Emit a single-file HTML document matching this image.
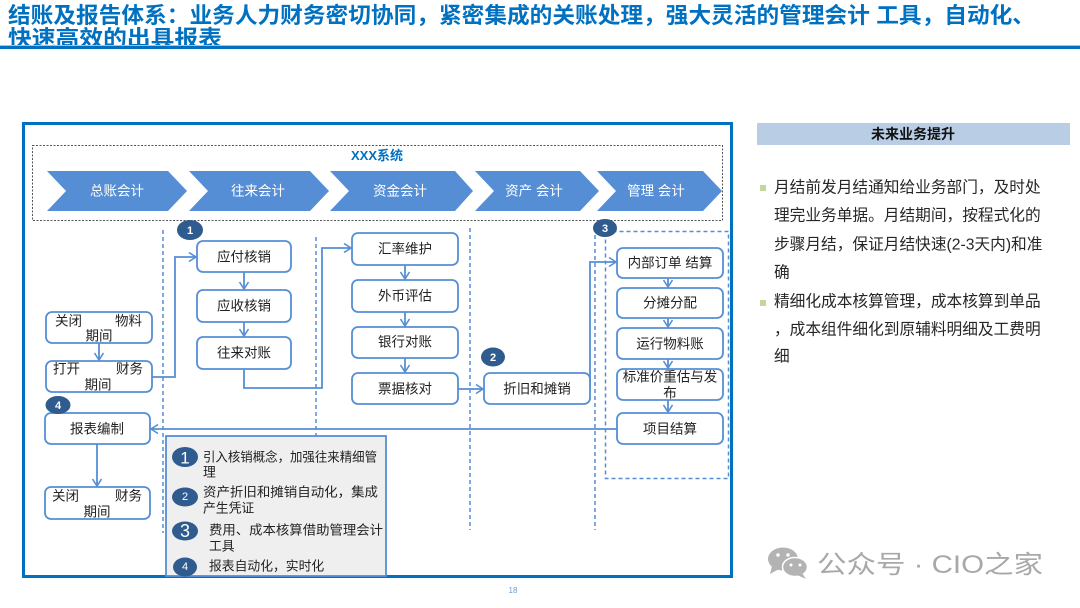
<!DOCTYPE html>
<html><head><meta charset="utf-8"><style>
html,body{margin:0;padding:0;background:#fff;}
body{width:1080px;height:608px;overflow:hidden;}
svg{display:block;font-family:"Liberation Sans","Noto Sans CJK SC",sans-serif;}
</style></head><body>
<svg width="1080" height="608" viewBox="0 0 1080 608" xmlns="http://www.w3.org/2000/svg">
<defs>
<marker id="ar" markerWidth="12" markerHeight="12" refX="9" refY="6" orient="auto" markerUnits="userSpaceOnUse">
<polyline points="2,1.5 9,6 2,10.5" fill="none" stroke="#558ED5" stroke-width="1.6"/>
</marker>
</defs>

<!-- Title -->
<g font-weight="bold" fill="#0070C0" font-size="22">
<text x="8" y="23" textLength="1027" lengthAdjust="spacingAndGlyphs">结账及报告体系：业务人力财务密切协同，紧密集成的关账处理，强大灵活的管理会计 工具，自动化、</text>
<text x="8" y="46" textLength="214" lengthAdjust="spacingAndGlyphs">快速高效的出具报表</text>
</g>
<rect x="0" y="45" width="1080" height="1" fill="#9DC3E6"/>
<rect x="0" y="46" width="1080" height="3" fill="#0070C0"/>

<!-- Main frame -->
<rect x="23.5" y="123.5" width="708" height="453" fill="none" stroke="#0070C0" stroke-width="3"/>

<!-- System dashed box -->
<rect x="32.5" y="145.5" width="690" height="75" fill="none" stroke="#555" stroke-width="1" stroke-dasharray="2,1.5"/>
<text x="377" y="160" text-anchor="middle" font-size="13" font-weight="bold" fill="#0070C0">XXX系统</text>

<!-- Chevrons -->
<g fill="#558ED5">
<polygon points="47,171 168,171 187,191 168,211 47,211 66,191"/>
<polygon points="189,171 310,171 329,191 310,211 189,211 208,191"/>
<polygon points="330,171 455,171 473,191 455,211 330,211 349,191"/>
<polygon points="475,171 580,171 599,191 580,211 475,211 494,191"/>
<polygon points="597,171 703,171 722,191 703,211 597,211 616,191"/>
</g>
<g fill="#fff" font-size="13.5" text-anchor="middle" dominant-baseline="central">
<text x="117" y="191">总账会计</text>
<text x="258" y="191">往来会计</text>
<text x="400" y="191">资金会计</text>
<text x="534" y="191">资产 会计</text>
<text x="656" y="191">管理 会计</text>
</g>

<!-- Vertical dashed lines -->
<g stroke="#558ED5" stroke-width="1.5" stroke-dasharray="4,3" fill="none">
<line x1="163" y1="230" x2="163" y2="533"/>
<line x1="316" y1="237" x2="316" y2="436"/>
<line x1="470" y1="228" x2="470" y2="530"/>
<line x1="595" y1="228" x2="595" y2="530"/>
<rect x="605.5" y="231.5" width="123" height="247"/>
</g>

<!-- Connectors -->
<g stroke="#558ED5" stroke-width="1.8" fill="none">
<polyline points="152,377 175,377 175,257 196,257" marker-end="url(#ar)"/>
<polyline points="244,369 244,388 322,388 322,248 351,248" marker-end="url(#ar)"/>
<line x1="458" y1="389" x2="483" y2="389" marker-end="url(#ar)"/>
<polyline points="590,389 590,262 616,262" marker-end="url(#ar)"/>
<line x1="617" y1="429" x2="151" y2="429" marker-end="url(#ar)"/>
<line x1="99" y1="343" x2="99" y2="360" marker-end="url(#ar)"/>
<line x1="97" y1="444" x2="97" y2="486" marker-end="url(#ar)"/>
<line x1="244" y1="272" x2="244" y2="289" marker-end="url(#ar)"/>
<line x1="244" y1="322" x2="244" y2="336" marker-end="url(#ar)"/>
<line x1="405" y1="265" x2="405" y2="279" marker-end="url(#ar)"/>
<line x1="405" y1="312" x2="405" y2="326" marker-end="url(#ar)"/>
<line x1="405" y1="358" x2="405" y2="372" marker-end="url(#ar)"/>
<line x1="668" y1="278" x2="668" y2="287" marker-end="url(#ar)"/>
<line x1="668" y1="318" x2="668" y2="327" marker-end="url(#ar)"/>
<line x1="668" y1="359" x2="668" y2="368" marker-end="url(#ar)"/>
<line x1="668" y1="400" x2="668" y2="412" marker-end="url(#ar)"/>
</g>

<!-- Boxes -->
<g fill="#fff" stroke="#558ED5" stroke-width="1.8">
<rect x="46" y="312" width="106" height="31" rx="6"/>
<rect x="46" y="361" width="106" height="31" rx="6"/>
<rect x="45" y="413" width="105" height="31" rx="6"/>
<rect x="45" y="487" width="105" height="32" rx="6"/>
<rect x="197" y="241" width="94" height="31" rx="6"/>
<rect x="197" y="290" width="94" height="32" rx="6"/>
<rect x="197" y="337" width="94" height="32" rx="6"/>
<rect x="352" y="233" width="106" height="32" rx="6"/>
<rect x="352" y="280" width="106" height="32" rx="6"/>
<rect x="352" y="327" width="106" height="31" rx="6"/>
<rect x="352" y="373" width="106" height="31" rx="6"/>
<rect x="484" y="373" width="106" height="31" rx="6"/>
<rect x="617" y="248" width="106" height="30" rx="6"/>
<rect x="617" y="288" width="106" height="30" rx="6"/>
<rect x="617" y="328" width="106" height="31" rx="6"/>
<rect x="617" y="369" width="106" height="31" rx="6"/>
<rect x="617" y="413" width="106" height="31" rx="6"/>
</g>
<g fill="#222" font-size="13.5" dominant-baseline="central">
<text x="55" y="321">关闭</text><text x="115" y="321">物料</text>
<text x="99" y="336" text-anchor="middle">期间</text>
<text x="53" y="369">打开</text><text x="116" y="369">财务</text>
<text x="98" y="385" text-anchor="middle">期间</text>
<text x="97" y="429" text-anchor="middle">报表编制</text>
<text x="52" y="496">关闭</text><text x="115" y="496">财务</text>
<text x="97" y="512" text-anchor="middle">期间</text>
<g text-anchor="middle">
<text x="244" y="257">应付核销</text>
<text x="244" y="306">应收核销</text>
<text x="244" y="353">往来对账</text>
<text x="405" y="249">汇率维护</text>
<text x="405" y="296">外币评估</text>
<text x="405" y="342">银行对账</text>
<text x="405" y="389">票据核对</text>
<text x="537" y="389">折旧和摊销</text>
<text x="670" y="263">内部订单 结算</text>
<text x="670" y="303">分摊分配</text>
<text x="670" y="344">运行物料账</text>
<text x="670" y="377">标准价重估与发</text>
<text x="670" y="393">布</text>
<text x="670" y="429">项目结算</text>
</g>
</g>

<!-- Badges -->
<g fill="#2F5B8F">
<ellipse cx="190" cy="230" rx="13" ry="10"/>
<ellipse cx="493" cy="357" rx="12" ry="9.5"/>
<ellipse cx="605" cy="228" rx="12" ry="9"/>
<ellipse cx="58" cy="405" rx="12.5" ry="9"/>
</g>
<g fill="#fff" font-size="11" font-weight="bold" text-anchor="middle" dominant-baseline="central">
<text x="190" y="231">1</text>
<text x="493" y="358">2</text>
<text x="605" y="229">3</text>
<text x="58" y="406">4</text>
</g>

<!-- Legend panel -->
<rect x="166" y="436" width="220" height="140" fill="#EFEFEF" stroke="#558ED5" stroke-width="1.8"/>
<g fill="#2F5B8F">
<ellipse cx="185" cy="457" rx="13" ry="10"/>
<ellipse cx="185" cy="497" rx="13" ry="9.5"/>
<ellipse cx="185" cy="531" rx="13" ry="9.5"/>
<ellipse cx="185" cy="567" rx="12" ry="9.5"/>
</g>
<g fill="#fff" text-anchor="middle" dominant-baseline="central">
<text x="185" y="458" font-size="17">1</text>
<text x="185" y="497" font-size="11">2</text>
<text x="185" y="531" font-size="18">3</text>
<text x="185" y="567" font-size="11">4</text>
</g>
<g fill="#222" font-size="12.8" dominant-baseline="central">
<text x="203" y="457" textLength="174" lengthAdjust="spacingAndGlyphs">引入核销概念，加强往来精细管</text>
<text x="203" y="472">理</text>
<text x="203" y="492" textLength="175" lengthAdjust="spacingAndGlyphs">资产折旧和摊销自动化，集成</text>
<text x="203" y="508">产生凭证</text>
<text x="209" y="530" textLength="174" lengthAdjust="spacingAndGlyphs">费用、成本核算借助管理会计</text>
<text x="209" y="546">工具</text>
<text x="209" y="566">报表自动化，实时化</text>
</g>

<!-- Page number -->
<text x="513" y="593" font-size="8" fill="#6D9BD6" text-anchor="middle">18</text>

<!-- Right panel -->
<rect x="757" y="123" width="313" height="22" fill="#B9CDE5"/>
<text x="913" y="134" font-size="14" font-weight="bold" fill="#111" text-anchor="middle" dominant-baseline="central">未来业务提升</text>
<g fill="#C3D69B">
<rect x="760" y="185" width="6" height="6"/>
<rect x="760" y="300" width="6" height="6"/>
</g>
<g fill="#262626" font-size="15.7" dominant-baseline="central">
<text x="774" y="188">月结前发月结通知给业务部门，及时处</text>
<text x="774" y="216">理完业务单据。月结期间，按程式化的</text>
<text x="774" y="245">步骤月结，保证月结快速(2-3天内)和准</text>
<text x="774" y="273">确</text>
<text x="774" y="302">精细化成本核算管理，成本核算到单品</text>
<text x="774" y="330">，成本组件细化到原辅料明细及工费明</text>
<text x="774" y="357">细</text>
</g>

<!-- Watermark -->
<g>
<ellipse cx="783" cy="559" rx="15" ry="11.5" fill="#B3B3B3"/>
<polygon points="772,566 770,574 779,569" fill="#B3B3B3"/>
<ellipse cx="795" cy="567" rx="12.5" ry="9.5" fill="#B3B3B3" stroke="#fff" stroke-width="1.5"/>
<polygon points="802,573 806,579 797,575" fill="#B3B3B3"/>
<circle cx="778" cy="555" r="1.8" fill="#fff"/>
<circle cx="788" cy="555" r="1.8" fill="#fff"/>
<circle cx="791" cy="565" r="1.5" fill="#fff"/>
<circle cx="800" cy="565" r="1.5" fill="#fff"/>
</g>
<text x="817" y="565" font-size="25" fill="#A8A8A8" dominant-baseline="central" textLength="226" lengthAdjust="spacingAndGlyphs">公众号 · CIO之家</text>
</svg>
</body></html>
